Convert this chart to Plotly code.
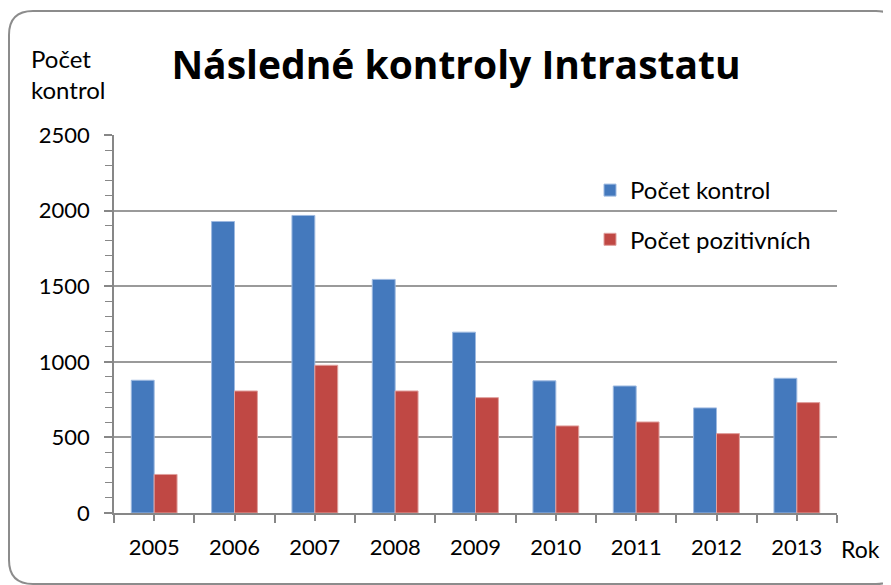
import plotly.graph_objects as go

years = ["2005", "2006", "2007", "2008", "2009", "2010", "2011", "2012", "2013"]
pocet_kontrol = [878, 1928, 1968, 1545, 1196, 874, 840, 695, 891]
pocet_pozitivnich = [255, 807, 977, 807, 763, 576, 602, 525, 730]

W_TOT, H_TOT = 891, 585
OFF = 8  # page offset of the figure inside the browser page
L, T = 114 - OFF, 135 - OFF
R = W_TOT - (837 - OFF)
B = H_TOT - (513 - OFF)
PW = W_TOT - L - R
PH = H_TOT - T - B


def X(px):
    return (px - OFF - L) / PW


def Y(py):
    return (H_TOT - B - (py - OFF)) / PH


xpos = list(range(len(years)))

fig = go.Figure()
fig.add_trace(go.Bar(
    x=xpos, y=pocet_kontrol, name="Počet kontrol",
    marker=dict(color="#4479BD", line=dict(color="#9DB9E0", width=1)),
    legendgroup="a",
))
fig.add_trace(go.Bar(
    x=xpos, y=pocet_pozitivnich, name="Počet pozitivních",
    marker=dict(color="#C04844", line=dict(color="#E0A09E", width=1)),
    legendgroup="b",
))

# rounded border (page pixel coordinates)
l, t, r, b, rad = 9, 11, 900, 584, 24
path = (
    f"M {X(l)},{Y(t + rad)} Q {X(l)},{Y(t)} {X(l + rad)},{Y(t)} "
    f"L {X(r - rad)},{Y(t)} Q {X(r)},{Y(t)} {X(r)},{Y(t + rad)} "
    f"L {X(r)},{Y(b - rad)} Q {X(r)},{Y(b)} {X(r - rad)},{Y(b)} "
    f"L {X(l + rad)},{Y(b)} Q {X(l)},{Y(b)} {X(l)},{Y(b - rad)} Z"
)

fig.update_layout(
    width=W_TOT, height=H_TOT,
    margin=dict(l=L, r=R, t=T, b=B),
    paper_bgcolor="white", plot_bgcolor="white",
    font=dict(family="Lato", size=22, color="#000000"),
    barmode="group", bargap=0.43, bargroupgap=0,
    title=dict(text="<b>Následné kontroly Intrastatu</b>",
               font=dict(family="Open Sans", size=39, color="#000000"),
               x=X(456), xanchor="center", xref="paper",
               y=1 - (65 - OFF) / H_TOT, yanchor="middle"),
    legend=dict(x=X(590), y=Y(168), xanchor="left", yanchor="top",
                bgcolor="rgba(0,0,0,0)", tracegroupgap=15,
                font=dict(size=24, family="Lato"),
                itemclick=False),
    showlegend=True,
    shapes=[dict(type="path", xref="paper", yref="paper", path=path,
                 line=dict(color="#8C8C8C", width=2), fillcolor="rgba(0,0,0,0)",
                 layer="below")],
    annotations=[
        dict(text="Počet<br>kontrol", x=X(29), y=Y(74), xref="paper", yref="paper",
             xanchor="left", yanchor="middle", align="left", showarrow=False,
             font=dict(size=24, family="Lato")),
        dict(text="Rok", x=X(839), y=Y(549), xref="paper", yref="paper",
             xanchor="left", yanchor="middle", showarrow=False,
             font=dict(size=23, family="Lato")),
    ],
)

fig.update_xaxes(
    range=[-0.5, 8.5], tickmode="array", tickvals=xpos, ticktext=years,
    showline=True, linecolor="#878787", linewidth=1.5,
    ticks="outside", ticklen=6, tickcolor="#878787", tickwidth=1.5,
    showgrid=False, zeroline=False,
    minor=dict(tickvals=[i - 0.5 for i in range(len(years) + 1)],
               ticks="outside", ticklen=8, tickcolor="#878787", tickwidth=1.5),
    tickfont=dict(size=22), ticklabelstandoff=8,
)
fig.update_yaxes(
    range=[0, 2500], dtick=500, tick0=0,
    showline=True, linecolor="#878787", linewidth=1.5,
    showgrid=True, gridcolor="#9A9A9A", gridwidth=1.5,
    ticks="outside", ticklen=8, tickcolor="#878787", tickwidth=1.5,
    minor=dict(dtick=100, ticks="outside", ticklen=7, tickcolor="#878787",
               tickwidth=1.2, showgrid=False),
    zeroline=False, tickfont=dict(size=22), ticklabelstandoff=10,
)

fig.write_html("out.html")
